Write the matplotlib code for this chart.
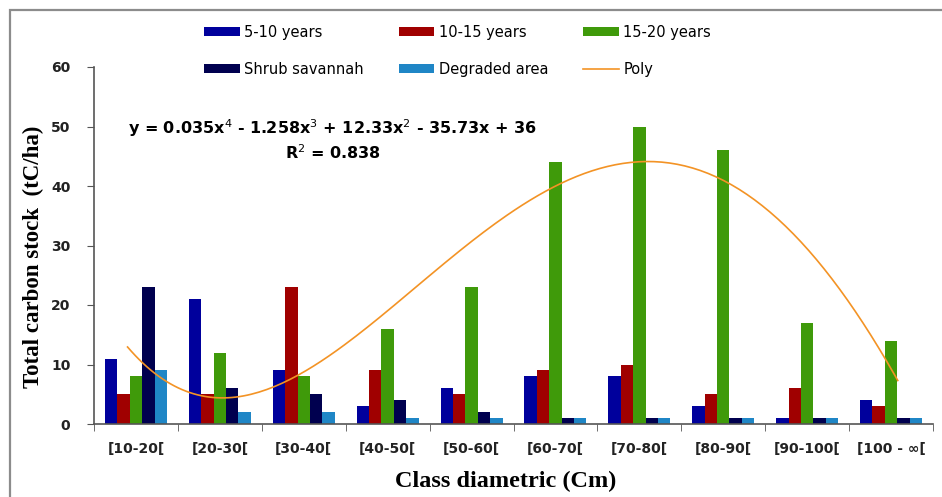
import matplotlib

matplotlib.use("Agg")

import matplotlib.pyplot as plt
import numpy as np
from matplotlib.patches import Rectangle

categories = ["[10-20[", "[20-30[", "[30-40[", "[40-50[", "[50-60[",
              "[60-70[", "[70-80[", "[80-90[", "[90-100[", "[100 - \u221e["]
years_5_10 = [11, 21, 9, 3, 6, 8, 8, 3, 1, 4]
years_10_15 = [5, 5, 23, 9, 5, 9, 10, 5, 6, 3]
years_15_20 = [8, 12, 8, 16, 23, 44, 50, 46, 17, 14]
shrub_savannah = [23, 6, 5, 4, 2, 1, 1, 1, 1, 1]
degraded_area = [9, 2, 2, 1, 1, 1, 1, 1, 1, 1]
y_ticks = [0, 10, 20, 30, 40, 50, 60]

series = [
    ("5-10 years", years_5_10, "#00009C"),
    ("10-15 years", years_10_15, "#A00000"),
    ("15-20 years", years_15_20, "#3F9A0A"),
    ("Shrub savannah", shrub_savannah, "#00004F"),
    ("Degraded area", degraded_area, "#1F86C6"),
]

W, H = 942, 497


def fx(px):
    return px / W


def fy(py):
    return 1 - py / H


fig = plt.figure(figsize=(W / 100, H / 100), dpi=100)
ax = fig.add_axes([fx(94), fy(424), fx(933) - fx(94), fy(67) - fy(424)])

# cadre extérieur du graphique (coupé à droite et en bas)
fig.patches.append(Rectangle((fx(10), -0.1), 1.2, fy(10) + 0.1,
                             transform=fig.transFigure, fill=False,
                             edgecolor="#8c8c8c", lw=1.6))

x = np.arange(len(categories))
w = 0.148
handles = []
for i, (name, vals, color) in enumerate(series):
    h = ax.bar(x + (i - 2) * w, vals, width=w, color=color, label=name)
    handles.append(h)

# courbe de tendance polynomiale (ordre 4) sur la série 15-20 ans
coef = np.polyfit(x + 1, years_15_20, 4)
xs = np.linspace(0.9, len(categories) + 0.08, 200)
line, = ax.plot(xs - 1, np.polyval(coef, xs), color="#F39325", lw=1.2, label="Poly")

ax.set_xlim(-0.5, len(categories) - 0.5)
ax.set_ylim(0, 60)
ax.set_yticks(y_ticks)
ax.set_yticklabels([str(t) for t in y_ticks], fontsize=10, fontweight="bold",
                   color="#222222")
ax.set_xticks(x)
ax.set_xticklabels(categories, fontsize=10, fontweight="bold", color="#222222")
ax.tick_params(axis="x", length=0, pad=13)
ax.set_xticks(np.arange(len(categories) + 1) - 0.5, minor=True)
ax.tick_params(axis="x", which="minor", length=5, direction="out", color="#555555")
ax.tick_params(axis="y", length=5, direction="out", color="#555555", pad=12)
for s in ("top", "right"):
    ax.spines[s].set_visible(False)
for s in ("left", "bottom"):
    ax.spines[s].set_color("#555555")
    ax.spines[s].set_linewidth(1.2)

fig.text(fx(506), fy(481), "Class diametric (Cm)", family="Liberation Serif",
         fontsize=17.5, fontweight="bold", ha="center", va="center")
fig.text(fx(33), fy(257), "Total carbon stock  (tC/ha)", family="Liberation Serif",
         fontsize=16.5, fontweight="bold", ha="center", va="center", rotation=90)

fig.text(fx(333), fy(128), r"y = 0.035x$^{4}$ - 1.258x$^{3}$ + 12.33x$^{2}$ - 35.73x + 36",
         fontsize=11.5, fontweight="bold", ha="center", va="center")
fig.text(fx(333), fy(153), r"R$^{2}$ = 0.838", fontsize=11.5,
         fontweight="bold", ha="center", va="center")

order = [handles[0], handles[3], handles[1], handles[4], handles[2], line]
fig.legend(handles=order, labels=[hh.get_label() for hh in order], ncol=3,
           loc="upper left", bbox_to_anchor=(fx(204), fy(25)), frameon=False,
           borderpad=0, borderaxespad=0, fontsize=10.5, handlelength=2.45,
           handleheight=0.55, columnspacing=2.4, handletextpad=0.3,
           labelspacing=1.5)

fig.savefig("out.png", dpi=100)
